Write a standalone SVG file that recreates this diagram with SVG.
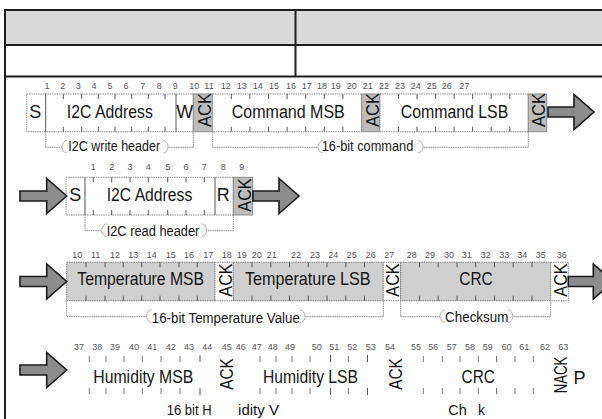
<svg xmlns="http://www.w3.org/2000/svg" width="602" height="419" viewBox="0 0 602 419">
<style>
.tl{stroke:#1e1e1e;stroke-width:2;fill:none}
.box{fill:#fff;stroke:#8a8a8a;stroke-width:1;stroke-dasharray:1.5 0.8}
.gbox{fill:#cfcfcf;stroke:#7a7a7a;stroke-width:1;stroke-dasharray:1.5 0.8}
.ack{fill:#bcbcbc;stroke:#8a8a8a;stroke-width:1}
.sep{stroke:#555;stroke-width:1}
.tk{stroke:#555;stroke-width:1;fill:none}
.tk4{stroke:#777;stroke-width:1;fill:none}
.num{font-family:"Liberation Sans",Arial,sans-serif;font-size:9px;fill:#555;text-anchor:middle}
.lb{font-family:"Liberation Sans",Arial,sans-serif;font-size:18px;fill:#151515;text-anchor:middle}
.sm{font-family:"Liberation Sans",Arial,sans-serif;font-size:14px;fill:#151515;text-anchor:middle}
.brk{stroke:#777;stroke-width:0.9;fill:none;stroke-dasharray:1.2 0.6}
.pill{fill:#fff;stroke:none}
.pe{fill:none;stroke:#aaa;stroke-width:0.9}
.arr{fill:#8c8c8c;stroke:#1a1a1a;stroke-width:1.6;stroke-linejoin:miter}
</style>

<g id="table">
  <rect x="5" y="10" width="600" height="35" fill="#d9d9d9"/>
  <path class="tl" d="M5 10H604M5 45H604M5 76.5H604M5 9V419M295.5 10V76.5"/>
</g>

<!-- Row 1: write header + command -->
<g id="write-header">
  <rect class="box" x="26.7" y="94" width="166.6" height="37.7"/>
  <path class="sep" d="M45.7 94V131.7M176 94V131.7"/>
  <path class="tk" d="M63.3 94v5M81.7 94v5M98.3 94v5M115 94v5M131.7 94v5M148.3 94v5M165 94v5M63.3 126.7v5M81.7 126.7v5M98.3 126.7v5M115 126.7v5M131.7 126.7v5M148.3 126.7v5M165 126.7v5"/>
  <text class="lb" x="35.2" y="118.3">S</text>
  <text class="lb" x="109.8" y="118.3" textLength="86" lengthAdjust="spacingAndGlyphs">I2C Address</text>
  <text class="lb" x="184.8" y="118.3">W</text>
</g>
<g id="ack-w1">
  <rect class="ack" x="193.3" y="94" width="19.4" height="37.7"/>
  <text class="lb" transform="translate(210.5 110) rotate(-90)" textLength="34" lengthAdjust="spacingAndGlyphs">ACK</text>
</g>
<g id="cmd-msb">
  <rect class="box" x="212.7" y="94" width="149" height="37.7"/>
  <path class="tk" d="M231.3 94v5M249.9 94v5M268.5 94v5M287.1 94v5M305.7 94v5M324.3 94v5M342.9 94v5M231.3 126.7v5M249.9 126.7v5M268.5 126.7v5M287.1 126.7v5M305.7 126.7v5M324.3 126.7v5M342.9 126.7v5"/>
  <text class="lb" x="288.3" y="118.3" textLength="113" lengthAdjust="spacingAndGlyphs">Command MSB</text>
</g>
<g id="ack-w2">
  <rect class="ack" x="361.7" y="94" width="18.3" height="37.7"/>
  <text class="lb" transform="translate(378.5 110) rotate(-90)" textLength="34" lengthAdjust="spacingAndGlyphs">ACK</text>
</g>
<g id="cmd-lsb">
  <rect class="box" x="380" y="94" width="148.3" height="37.7"/>
  <path class="tk" d="M398.5 94v5M417 94v5M435.6 94v5M454.1 94v5M472.7 94v5M491.2 94v5M509.8 94v5M398.5 126.7v5M417 126.7v5M435.6 126.7v5M454.1 126.7v5M472.7 126.7v5M491.2 126.7v5M509.8 126.7v5"/>
  <text class="lb" x="454.5" y="118.3" textLength="107.5" lengthAdjust="spacingAndGlyphs">Command LSB</text>
</g>
<g id="ack-w3">
  <rect class="ack" x="528.3" y="94" width="18.4" height="37.7"/>
  <text class="lb" transform="translate(545 110) rotate(-90)" textLength="34" lengthAdjust="spacingAndGlyphs">ACK</text>
</g>
<g id="nums-row1">
  <text class="num" x="47" y="89">1</text><text class="num" x="62.7" y="89">2</text><text class="num" x="78.3" y="89">3</text><text class="num" x="94" y="89">4</text><text class="num" x="110" y="89">5</text><text class="num" x="126" y="89">6</text><text class="num" x="142.7" y="89">7</text><text class="num" x="159.3" y="89">8</text><text class="num" x="175.3" y="89">9</text><text class="num" x="194.3" y="89">10</text><text class="num" x="209" y="89">11</text><text class="num" x="225.7" y="89">12</text><text class="num" x="241.7" y="89">13</text><text class="num" x="257.7" y="89">14</text><text class="num" x="274" y="89">15</text><text class="num" x="291" y="89">16</text><text class="num" x="306.7" y="89">17</text><text class="num" x="322" y="89">18</text><text class="num" x="335.7" y="89">19</text><text class="num" x="351.7" y="89">20</text><text class="num" x="367.7" y="89">21</text><text class="num" x="384" y="89">22</text><text class="num" x="400" y="89">23</text><text class="num" x="415.7" y="89">24</text><text class="num" x="431.7" y="89">25</text><text class="num" x="446.7" y="89">26</text><text class="num" x="464.3" y="89">27</text>
</g>

<!-- Row 2: read header -->
<g id="read-header">
  <rect class="box" x="66" y="177.3" width="167.3" height="37.7"/>
  <path class="sep" d="M85 177.3V215M215 177.3V215"/>
  <path class="tk" d="M93.3 177.3v5M111.7 177.3v5M130 177.3v5M148.3 177.3v5M167.7 177.3v5M186 177.3v5M204.3 177.3v5M93.3 210v5M111.7 210v5M130 210v5M148.3 210v5M167.7 210v5M186 210v5M204.3 210v5"/>
  <text class="lb" x="75.3" y="200.7">S</text>
  <text class="lb" x="149.5" y="200.7" textLength="85.6" lengthAdjust="spacingAndGlyphs">I2C Address</text>
  <text class="lb" x="223.3" y="200.7">R</text>
</g>
<g id="ack-r1">
  <rect class="ack" x="233.3" y="177.3" width="19.4" height="37.7"/>
  <text class="lb" transform="translate(250.7 195) rotate(-90)" textLength="33.4" lengthAdjust="spacingAndGlyphs">ACK</text>
</g>
<g id="nums-row2">
  <text class="num" x="93.3" y="170">1</text><text class="num" x="111.7" y="170">2</text><text class="num" x="130" y="170">3</text><text class="num" x="148.3" y="170">4</text><text class="num" x="167.7" y="170">5</text><text class="num" x="186" y="170">6</text><text class="num" x="204.3" y="170">7</text><text class="num" x="223.3" y="170">8</text><text class="num" x="241.7" y="170">9</text>
</g>

<!-- Row 3: temperature -->
<g id="temp-msb">
  <rect class="gbox" x="66.7" y="262.3" width="148.3" height="38.4"/>
  <path class="tk" d="M86 262.3v5M105 262.3v5M123.3 262.3v5M141.7 262.3v5M160 262.3v5M179 262.3v5M197.3 262.3v5M86 295.7v5M105 295.7v5M123.3 295.7v5M141.7 295.7v5M160 295.7v5M179 295.7v5M197.3 295.7v5"/>
  <text class="lb" x="140.7" y="285" textLength="126.7" lengthAdjust="spacingAndGlyphs">Temperature MSB</text>
</g>
<g id="ack-t1">
  <rect class="box" x="215" y="262.3" width="18.3" height="38.4"/>
  <text class="lb" transform="translate(231.7 280) rotate(-90)" textLength="33.4" lengthAdjust="spacingAndGlyphs">ACK</text>
</g>
<g id="temp-lsb">
  <rect class="gbox" x="233.3" y="262.3" width="150" height="38.4"/>
  <path class="tk" d="M252 262.3v5M270.8 262.3v5M289.5 262.3v5M308.3 262.3v5M327 262.3v5M345.8 262.3v5M364.5 262.3v5M252 295.7v5M270.8 295.7v5M289.5 295.7v5M308.3 295.7v5M327 295.7v5M345.8 295.7v5M364.5 295.7v5"/>
  <text class="lb" x="307.8" y="285" textLength="125.7" lengthAdjust="spacingAndGlyphs">Temperature LSB</text>
</g>
<g id="ack-t2">
  <rect class="box" x="383.3" y="262.3" width="17.4" height="38.4"/>
  <text class="lb" transform="translate(399.3 280) rotate(-90)" textLength="33.4" lengthAdjust="spacingAndGlyphs">ACK</text>
</g>
<g id="crc-t">
  <rect class="gbox" x="400.7" y="262.3" width="150" height="38.4"/>
  <path class="tk" d="M419.5 262.3v5M438.2 262.3v5M457 262.3v5M475.7 262.3v5M494.5 262.3v5M513.2 262.3v5M532 262.3v5M419.5 295.7v5M438.2 295.7v5M457 295.7v5M475.7 295.7v5M494.5 295.7v5M513.2 295.7v5M532 295.7v5"/>
  <text class="lb" x="476" y="285" textLength="33.4" lengthAdjust="spacingAndGlyphs">CRC</text>
</g>
<g id="ack-t3">
  <rect class="box" x="550.7" y="262.3" width="17.6" height="38.4"/>
  <text class="lb" transform="translate(566.7 280) rotate(-90)" textLength="33.4" lengthAdjust="spacingAndGlyphs">ACK</text>
</g>
<g id="nums-row3">
  <text class="num" x="77.3" y="257.5">10</text><text class="num" x="95.7" y="257.5">11</text><text class="num" x="115" y="257.5">12</text><text class="num" x="133.3" y="257.5">13</text><text class="num" x="151.7" y="257.5">14</text><text class="num" x="170.7" y="257.5">15</text><text class="num" x="189" y="257.5">16</text><text class="num" x="208.3" y="257.5">17</text><text class="num" x="226.7" y="257.5">18</text><text class="num" x="241.7" y="257.5">19</text><text class="num" x="256.7" y="257.5">20</text><text class="num" x="271.7" y="257.5">21</text><text class="num" x="296" y="257.5">22</text><text class="num" x="315" y="257.5">23</text><text class="num" x="333.3" y="257.5">24</text><text class="num" x="351.7" y="257.5">25</text><text class="num" x="370.7" y="257.5">26</text><text class="num" x="389.3" y="257.5">27</text><text class="num" x="411.7" y="257.5">28</text><text class="num" x="430" y="257.5">29</text><text class="num" x="449" y="257.5">30</text><text class="num" x="466.7" y="257.5">31</text><text class="num" x="485.7" y="257.5">32</text><text class="num" x="504.3" y="257.5">33</text><text class="num" x="522.3" y="257.5">34</text><text class="num" x="540.7" y="257.5">35</text><text class="num" x="561.7" y="257.5">36</text>
</g>

<!-- Row 4: humidity -->
<g id="hum-msb">
  <path class="tk4" d="M89.3 356v6M106 356v6M124 356v6M142.3 356v6M161 356v6M180 356v6M89.3 388v6M106 388v6M124 388v6M142.3 388v6M161 388v6M180 388v6"/>
  <path class="tk" d="M200 355v7M200 388v7"/>
  <text class="lb" x="143.3" y="383.3" textLength="100" lengthAdjust="spacingAndGlyphs">Humidity MSB</text>
</g>
<g id="ack-h1">
  <text class="lb" transform="translate(233.3 374) rotate(-90)" textLength="31.7" lengthAdjust="spacingAndGlyphs">ACK</text>
</g>
<g id="hum-lsb">
  <path class="tk4" d="M260 356v6M276 356v6M292 356v6M310 356v6M348.3 356v6M260 388v6M276 388v6M292 388v6M310 388v6M348.3 388v6"/>
  <path class="tk" d="M330.5 355v7M367.5 355v7M330.5 388v7M367.5 388v7"/>
  <text class="lb" x="310.5" y="383.3" textLength="95" lengthAdjust="spacingAndGlyphs">Humidity LSB</text>
</g>
<g id="ack-h2">
  <text class="lb" transform="translate(401.7 374) rotate(-90)" textLength="31.7" lengthAdjust="spacingAndGlyphs">ACK</text>
</g>
<g id="crc-h">
  <path class="tk4" d="M423.3 356v6M442.3 356v6M460 356v6M478.3 356v6M496.5 356v6M515 356v6M533.3 356v6M423.3 388v6M442.3 388v6M460 388v6M478.3 388v6M496.5 388v6M515 388v6M533.3 388v6"/>
  <text class="lb" x="478.3" y="383.3" textLength="33.4" lengthAdjust="spacingAndGlyphs">CRC</text>
</g>
<g id="nack-h">
  <text class="lb" transform="translate(566.7 375) rotate(-90)" textLength="36.7" lengthAdjust="spacingAndGlyphs">NACK</text>
</g>
<g id="stop-p">
  <text class="lb" x="579.5" y="384" font-size="20">P</text>
</g>
<g id="nums-row4">
  <text class="num" x="79" y="349.5">37</text><text class="num" x="97.3" y="349.5">38</text><text class="num" x="115" y="349.5">39</text><text class="num" x="134" y="349.5">40</text><text class="num" x="152.3" y="349.5">41</text><text class="num" x="170.7" y="349.5">42</text><text class="num" x="189" y="349.5">43</text><text class="num" x="207.3" y="349.5">44</text><text class="num" x="226.7" y="349.5">45</text><text class="num" x="240.7" y="349.5">46</text><text class="num" x="256.7" y="349.5">47</text><text class="num" x="272.7" y="349.5">48</text><text class="num" x="290" y="349.5">49</text><text class="num" x="316.7" y="349.5">50</text><text class="num" x="334.3" y="349.5">51</text><text class="num" x="352.3" y="349.5">52</text><text class="num" x="370.7" y="349.5">53</text><text class="num" x="390" y="349.5">54</text><text class="num" x="416" y="349.5">55</text><text class="num" x="433.3" y="349.5">56</text><text class="num" x="451.7" y="349.5">57</text><text class="num" x="470" y="349.5">58</text><text class="num" x="487.7" y="349.5">59</text><text class="num" x="506.7" y="349.5">60</text><text class="num" x="524.3" y="349.5">61</text><text class="num" x="545" y="349.5">62</text><text class="num" x="563.3" y="349.5">63</text>
</g>
<g id="hum-bottom-labels">
  <text class="sm" x="189.2" y="415" textLength="45" lengthAdjust="spacingAndGlyphs">16 bit H</text>
  <text class="sm" x="258.5" y="415" style="font-size:15px">idity V</text>
  <text class="sm" x="457.5" y="415" textLength="18.4" lengthAdjust="spacingAndGlyphs">Ch</text>
  <text class="sm" x="481.5" y="415">k</text>
</g>

<!-- Connectors: brackets and flow arrows -->
<g id="connectors">
  <path class="brk" d="M45.7 131.7V147.3H193.3V131.7"/>
  <rect class="pill" x="62" y="140.5" width="106" height="12.5"/>
  <path class="pe" d="M67 140.5A5 6.25 0 0 0 67 153M163 140.5A5 6.25 0 0 1 163 153"/>
  <text class="sm" x="114.2" y="150.7" textLength="91.7" lengthAdjust="spacingAndGlyphs">I2C write header</text>

  <path class="brk" d="M212.7 131.7V147.3H528.3V131.7"/>
  <rect class="pill" x="318" y="140.5" width="105" height="12.5"/>
  <path class="pe" d="M323 140.5A5 6.25 0 0 0 323 153M418 140.5A5 6.25 0 0 1 418 153"/>
  <text class="sm" x="367.5" y="150.7" textLength="91.6" lengthAdjust="spacingAndGlyphs">16-bit command</text>

  <path class="brk" d="M85 215V230.7H233.3V215"/>
  <rect class="pill" x="101.7" y="224" width="105" height="12.5"/>
  <path class="pe" d="M106.7 224A5 6.25 0 0 0 106.7 236.5M201.7 224A5 6.25 0 0 1 201.7 236.5"/>
  <text class="sm" x="153" y="236.3" textLength="92.6" lengthAdjust="spacingAndGlyphs">I2C read header</text>

  <path class="brk" d="M66.7 300.7V316.7H383.3V300.7"/>
  <rect class="pill" x="146.7" y="310" width="158.3" height="12.5"/>
  <path class="pe" d="M151.7 310A5 6.25 0 0 0 151.7 322.5M300 310A5 6.25 0 0 1 300 322.5"/>
  <text class="sm" x="225.8" y="322.5" textLength="148" lengthAdjust="spacingAndGlyphs">16-bit Temperature Value</text>

  <path class="brk" d="M400.7 300.7V316.7H550.7V300.7"/>
  <rect class="pill" x="440" y="310" width="72.7" height="12.5"/>
  <path class="pe" d="M445 310A5 6.25 0 0 0 445 322.5M507.7 310A5 6.25 0 0 1 507.7 322.5"/>
  <text class="sm" x="476.7" y="321.7" textLength="63.3" lengthAdjust="spacingAndGlyphs">Checksum</text>

  <polygon class="arr" points="548,107 574,107 574,94.5 594,112 574,129.5 574,117 548,117"/>
  <polygon class="arr" points="20,191 46.7,191 46.7,178.5 66.7,196 46.7,213.5 46.7,201 20,201"/>
  <polygon class="arr" points="253,191 279,191 279,178.5 299,196 279,213.5 279,201 253,201"/>
  <polygon class="arr" points="20,276.5 46.7,276.5 46.7,264 66.7,281.5 46.7,299 46.7,286.5 20,286.5"/>
  <polygon class="arr" points="568.3,276.5 593.3,276.5 593.3,264 613.3,281.5 593.3,299 593.3,286.5 568.3,286.5"/>
  <polygon class="arr" points="20,365 46.7,365 46.7,352.5 66.7,370 46.7,387.5 46.7,375 20,375"/>
</g>
</svg>
